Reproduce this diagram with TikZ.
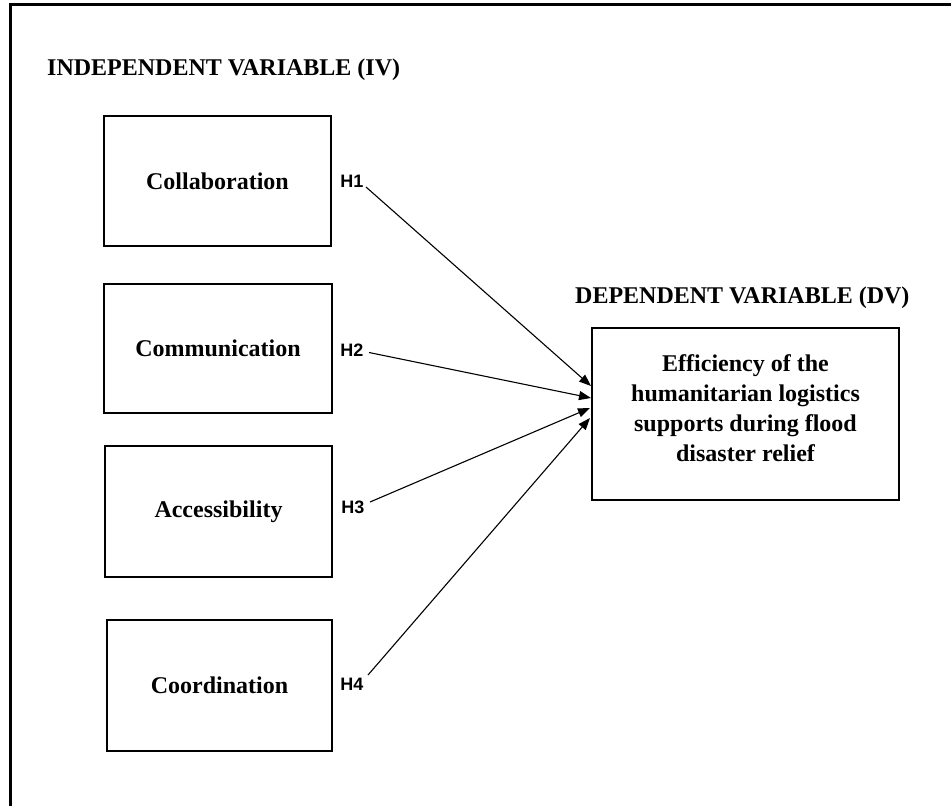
\documentclass[tikz,border=0pt]{standalone}
\usepackage{fontspec}
\setmainfont{Liberation Serif}
\newfontfamily\labelfont{Liberation Sans}
\usetikzlibrary{arrows.meta}
\begin{document}
\begin{tikzpicture}[x=1bp,y=-1bp,
  varbox/.style={draw,line width=2.4bp,inner sep=0pt,align=center,
    font=\fontsize{24bp}{30bp}\selectfont\bfseries},
  heading/.style={inner sep=0pt,font=\fontsize{24bp}{30bp}\selectfont\bfseries},
  hyp/.style={inner sep=0pt,font=\labelfont\fontsize{18bp}{20bp}\selectfont\bfseries},
  link/.style={line width=1.1bp,-{Triangle[length=12bp,width=9bp]}}]
\useasboundingbox (0,0) rectangle (951,806);
% outer frame (runs past the page edges on the right and bottom)
\begin{scope}
  \clip (0,0) rectangle (951,806);
  \draw[line width=3bp] (10,5) rectangle (960,820);
\end{scope}

% headings
\node[heading,anchor=base west] (ivtitle) at (47,76) {INDEPENDENT VARIABLE (IV)};
\node[heading,anchor=base west] (dvtitle) at (575,303) {DEPENDENT VARIABLE (DV)};

% independent variables
\node[varbox,minimum width=227bp,minimum height=130bp] (collab) at (217.5,181) {Collaboration};
\node[varbox,minimum width=228bp,minimum height=129bp] (commun) at (218,348.5) {Communication};
\node[varbox,minimum width=227bp,minimum height=131bp] (access) at (218.5,511.5) {Accessibility};
\node[varbox,minimum width=225bp,minimum height=131bp] (coord) at (219.5,685.5) {Coordination};

% dependent variable
\node[varbox,minimum width=307bp,minimum height=172bp] (dv) at (745.5,414)
  {Efficiency of the\\humanitarian logistics\\supports during flood\\disaster relief\\[-18bp]\mbox{}};

% hypothesis labels
\node[hyp] (h1) at (352,181) {H1};
\node[hyp] (h2) at (352,350) {H2};
\node[hyp] (h3) at (353,507) {H3};
\node[hyp] (h4) at (352,684) {H4};

% connector start and end points
\coordinate (s1) at (366,187);
\coordinate (s2) at (369,352.5);
\coordinate (s3) at (370,502);
\coordinate (s4) at (368,675);
\coordinate (t1) at (591,386);
\coordinate (t2) at (591,398);
\coordinate (t3) at (590,408);
\coordinate (t4) at (590,418);

\draw[link] (s1) -- (t1);
\draw[link] (s2) -- (t2);
\draw[link] (s3) -- (t3);
\draw[link] (s4) -- (t4);
\end{tikzpicture}
\end{document}
